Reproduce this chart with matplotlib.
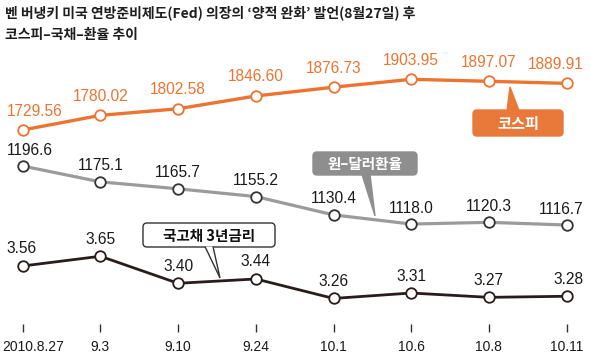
import matplotlib
matplotlib.use("Agg")
import matplotlib.pyplot as plt
from matplotlib.patches import FancyBboxPatch, Polygon
from matplotlib.transforms import ScaledTranslation

# ---- data ----
dates = ["2010.8.27", "9.3", "9.10", "9.24", "10.1", "10.6", "10.8", "10.11"]
kospi = [1729.56, 1780.02, 1802.58, 1846.60, 1876.73, 1903.95, 1897.07, 1889.91]
kospi_labels = ["1729.56", "1780.02", "1802.58", "1846.60", "1876.73", "1903.95", "1897.07", "1889.91"]
fx = [1196.6, 1175.1, 1165.7, 1155.2, 1130.4, 1118.0, 1120.3, 1116.7]
fx_labels = ["1196.6", "1175.1", "1165.7", "1155.2", "1130.4", "1118.0", "1120.3", "1116.7"]
bond = [3.56, 3.65, 3.40, 3.44, 3.26, 3.31, 3.27, 3.28]
bond_labels = ["3.56", "3.65", "3.40", "3.44", "3.26", "3.31", "3.27", "3.28"]
title1 = "벤 버냉키 미국 연방준비제도(Fed) 의장의 ‘양적 완화’ 발언(8월27일) 후"
title2 = "코스피–국채–환율 추이"
name_kospi = "코스피"
name_fx = "원–달러환율"
name_bond = "국고채 3년금리"

W, H = 590, 363
KFONT = ["Noto Sans CJK KR", "DejaVu Sans"]
NFONT = "Liberation Sans"
ORANGE = "#EC7430"
ORANGE_BOX = "#E8793A"
GRAY = "#9b9b9b"
GRAY_BOX = "#8e8e8e"
DARK = "#2a1c1c"

fig = plt.figure(figsize=(W / 100, H / 100), dpi=100)
fig.patch.set_facecolor("white")

# overlay axes in pixel coordinates (for title & callouts)
ov = fig.add_axes([0, 0, 1, 1])
ov.set_xlim(0, W)
ov.set_ylim(H, 0)
ov.axis("off")

n = len(dates)
xs = list(range(n))
xlim = (-0.292, 7.301)
bottom_px = 332
pos = [0, (H - bottom_px) / H, 1, bottom_px / H]

def make_ax(ylim, z):
    a = fig.add_axes(pos, zorder=z)
    a.set_xlim(*xlim)
    a.set_ylim(*ylim)
    a.patch.set_visible(False)
    for s in a.spines.values():
        s.set_visible(False)
    a.set_yticks([])
    a.set_xticks([])
    return a

ax_k = make_ax((1034.8, 2176.7), 3)
ax_f = make_ax((971.8, 1421.4), 2)
ax_b = make_ax((2.9495, 6.02), 1)

px = 0.72  # points per pixel

def draw(a, vals, labels, lc, mec, lw, off):
    a.plot(xs, vals, color=lc, lw=lw, solid_joinstyle="round", zorder=2)
    a.plot(xs, vals, ls="none", marker="o", ms=7.6, mfc="white", mec=mec, mew=1.3, zorder=3)
    tc = lc if lc == ORANGE else "#1a1a1a"
    for i, (x, v, t) in enumerate(zip(xs, vals, labels)):
        if i == 0:
            ha, dx = "left", -16
        elif i == n - 1:
            ha, dx = "right", 17
        else:
            ha, dx = "center", 0
        a.annotate(t, (x, v), xytext=(dx * px, off * px), textcoords="offset points",
                   ha=ha, va="center", fontsize=11.2, family=NFONT, color=tc)

draw(ax_k, kospi, kospi_labels, ORANGE, ORANGE, 2.4, 19)
draw(ax_f, fx, fx_labels, GRAY, "#333333", 2.3, 16)
draw(ax_b, bond, bond_labels, DARK, DARK, 2.0, 17)

# x ticks
ax_b.set_xticks(xs)
ax_b.set_xticklabels(dates, fontsize=10, family=NFONT, color="#1a1a1a")
ax_b.tick_params(axis="x", direction="in", length=5.5, width=1.0, color="#333333", pad=5.5)
lab0 = ax_b.get_xticklabels()[0]
lab0.set_ha("left")
lab0.set_transform(lab0.get_transform() + ScaledTranslation(-20 / 100, 0, fig.dpi_scale_trans))

# title
ov.text(5, 12.5, title1, fontsize=10, fontweight="bold", family=KFONT, color="#1e1e1e",
        ha="left", va="center")
ov.text(5, 35.5, title2, fontsize=10, fontweight="bold", family=KFONT, color="#1e1e1e",
        ha="left", va="center")

# callouts
def callout(x0, y0, x1, y1, tail, fc, ec, text, tcolor, fs):
    box = FancyBboxPatch((x0, y0), x1 - x0, y1 - y0,
                         boxstyle="round,pad=0,rounding_size=4",
                         fc=fc, ec=ec, lw=1.0, zorder=5)
    ov.add_patch(box)
    tri = Polygon(tail, closed=False, fc=fc, ec=ec, lw=1.0, zorder=6)
    ov.add_patch(tri)
    ov.text((x0 + x1) / 2, (y0 + y1) / 2 + 0.5, text, ha="center", va="center",
            fontsize=fs, fontweight="bold", family=KFONT, color=tcolor, zorder=7)

callout(473, 110, 563, 136, [(507, 110.5), (510, 87), (519, 110.5)],
        ORANGE_BOX, ORANGE_BOX, name_kospi, "white", 11)
callout(313, 152, 417, 175, [(362, 174.5), (375, 216), (370, 174.5)],
        GRAY_BOX, GRAY_BOX, name_fx, "white", 10.5)
callout(143, 223, 275, 247, [(205, 246.5), (220, 278), (213, 246.5)],
        "white", "#333333", name_bond, "#111111", 10.5)

fig.savefig("out.png", dpi=100, facecolor="white")
